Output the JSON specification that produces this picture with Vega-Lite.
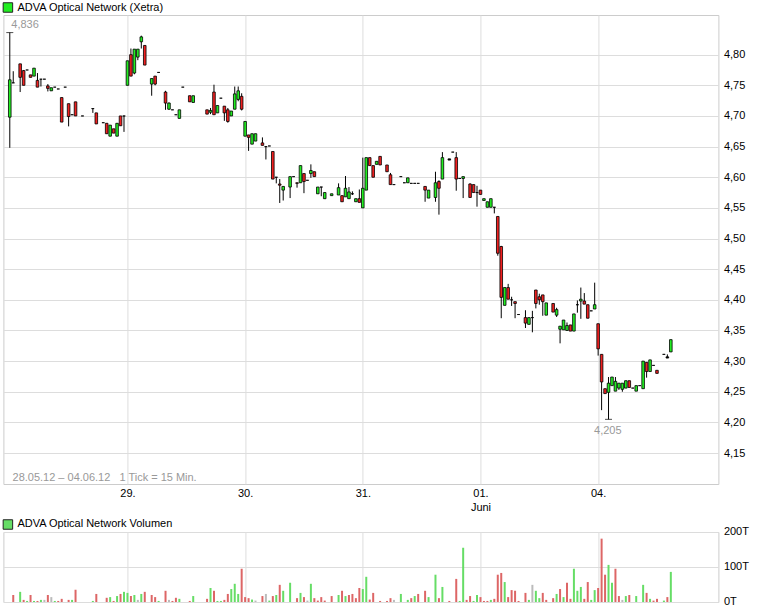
{
  "$schema": "https://vega.github.io/schema/vega-lite/v6.json",
  "background": "white",
  "padding": {"left": 1.4, "top": 1, "right": 5, "bottom": 5},
  "bounds": "flush",
  "spacing": 48,
  "datasets": {
    "candles": [
      {"t": 0, "o": 4.698, "h": 4.836, "l": 4.648, "c": 4.759, "d": "up"},
      {"t": 1, "o": 4.754, "h": 4.773, "l": 4.754, "c": 4.754, "d": "flat"},
      {"t": 3, "o": 4.785, "h": 4.785, "l": 4.739, "c": 4.763, "d": "down"},
      {"t": 4, "o": 4.774, "h": 4.775, "l": 4.75, "c": 4.75, "d": "down"},
      {"t": 5, "o": 4.775, "h": 4.775, "l": 4.775, "c": 4.775, "d": "flat"},
      {"t": 6, "o": 4.767, "h": 4.767, "l": 4.763, "c": 4.763, "d": "down"},
      {"t": 7, "o": 4.765, "h": 4.778, "l": 4.765, "c": 4.778, "d": "up"},
      {"t": 8, "o": 4.758, "h": 4.77, "l": 4.747, "c": 4.747, "d": "down"},
      {"t": 9, "o": 4.76, "h": 4.76, "l": 4.748, "c": 4.76, "d": "flat"},
      {"t": 10, "o": 4.76, "h": 4.76, "l": 4.76, "c": 4.76, "d": "flat"},
      {"t": 11, "o": 4.749, "h": 4.752, "l": 4.74, "c": 4.745, "d": "down"},
      {"t": 12, "o": 4.741, "h": 4.746, "l": 4.741, "c": 4.746, "d": "up"},
      {"t": 13, "o": 4.747, "h": 4.747, "l": 4.747, "c": 4.747, "d": "flat"},
      {"t": 14, "o": 4.744, "h": 4.744, "l": 4.744, "c": 4.744, "d": "flat"},
      {"t": 15, "o": 4.73, "h": 4.73, "l": 4.69, "c": 4.69, "d": "down"},
      {"t": 16, "o": 4.747, "h": 4.747, "l": 4.747, "c": 4.747, "d": "flat"},
      {"t": 17, "o": 4.72, "h": 4.72, "l": 4.683, "c": 4.699, "d": "down"},
      {"t": 18, "o": 4.702, "h": 4.702, "l": 4.702, "c": 4.702, "d": "flat"},
      {"t": 19, "o": 4.723, "h": 4.723, "l": 4.7, "c": 4.7, "d": "down"},
      {"t": 21, "o": 4.7, "h": 4.7, "l": 4.7, "c": 4.7, "d": "flat"},
      {"t": 24, "o": 4.712, "h": 4.712, "l": 4.705, "c": 4.712, "d": "flat"},
      {"t": 25, "o": 4.705, "h": 4.705, "l": 4.687, "c": 4.687, "d": "down"},
      {"t": 27, "o": 4.689, "h": 4.689, "l": 4.689, "c": 4.689, "d": "flat"},
      {"t": 28, "o": 4.688, "h": 4.688, "l": 4.671, "c": 4.671, "d": "down"},
      {"t": 29, "o": 4.667, "h": 4.685, "l": 4.667, "c": 4.685, "d": "up"},
      {"t": 30, "o": 4.679, "h": 4.679, "l": 4.672, "c": 4.672, "d": "down"},
      {"t": 31, "o": 4.667, "h": 4.688, "l": 4.667, "c": 4.688, "d": "up"},
      {"t": 32, "o": 4.7, "h": 4.7, "l": 4.684, "c": 4.684, "d": "down"},
      {"t": 33, "o": 4.7, "h": 4.7, "l": 4.674, "c": 4.7, "d": "flat"},
      {"t": 34, "o": 4.75, "h": 4.79, "l": 4.75, "c": 4.79, "d": "up"},
      {"t": 35, "o": 4.8, "h": 4.81, "l": 4.765, "c": 4.765, "d": "down"},
      {"t": 36, "o": 4.77, "h": 4.809, "l": 4.768, "c": 4.809, "d": "up"},
      {"t": 37, "o": 4.796, "h": 4.809, "l": 4.791, "c": 4.809, "d": "up"},
      {"t": 38, "o": 4.821, "h": 4.831, "l": 4.81, "c": 4.829, "d": "up"},
      {"t": 39, "o": 4.815, "h": 4.815, "l": 4.783, "c": 4.783, "d": "down"},
      {"t": 41, "o": 4.752, "h": 4.761, "l": 4.733, "c": 4.761, "d": "up"},
      {"t": 42, "o": 4.765, "h": 4.765, "l": 4.75, "c": 4.752, "d": "down"},
      {"t": 43, "o": 4.771, "h": 4.771, "l": 4.771, "c": 4.771, "d": "flat"},
      {"t": 45, "o": 4.739, "h": 4.741, "l": 4.71, "c": 4.721, "d": "down"},
      {"t": 46, "o": 4.711, "h": 4.722, "l": 4.71, "c": 4.721, "d": "up"},
      {"t": 47, "o": 4.71, "h": 4.71, "l": 4.71, "c": 4.71, "d": "flat"},
      {"t": 48, "o": 4.702, "h": 4.702, "l": 4.702, "c": 4.702, "d": "flat"},
      {"t": 49, "o": 4.696, "h": 4.71, "l": 4.696, "c": 4.71, "d": "up"},
      {"t": 50, "o": 4.747, "h": 4.747, "l": 4.747, "c": 4.747, "d": "flat"},
      {"t": 52, "o": 4.733, "h": 4.733, "l": 4.723, "c": 4.723, "d": "down"},
      {"t": 53, "o": 4.722, "h": 4.733, "l": 4.722, "c": 4.733, "d": "up"},
      {"t": 57, "o": 4.71, "h": 4.71, "l": 4.703, "c": 4.703, "d": "down"},
      {"t": 58, "o": 4.706, "h": 4.713, "l": 4.703, "c": 4.709, "d": "up"},
      {"t": 59, "o": 4.739, "h": 4.751, "l": 4.702, "c": 4.702, "d": "down"},
      {"t": 60, "o": 4.705, "h": 4.717, "l": 4.705, "c": 4.717, "d": "up"},
      {"t": 61, "o": 4.729, "h": 4.729, "l": 4.729, "c": 4.729, "d": "flat"},
      {"t": 62, "o": 4.716, "h": 4.716, "l": 4.692, "c": 4.705, "d": "down"},
      {"t": 63, "o": 4.71, "h": 4.713, "l": 4.689, "c": 4.691, "d": "down"},
      {"t": 64, "o": 4.7, "h": 4.708, "l": 4.7, "c": 4.708, "d": "up"},
      {"t": 65, "o": 4.711, "h": 4.748, "l": 4.711, "c": 4.736, "d": "up"},
      {"t": 66, "o": 4.727, "h": 4.748, "l": 4.724, "c": 4.741, "d": "up"},
      {"t": 67, "o": 4.732, "h": 4.737, "l": 4.709, "c": 4.711, "d": "down"},
      {"t": 68, "o": 4.667, "h": 4.691, "l": 4.667, "c": 4.691, "d": "up"},
      {"t": 69, "o": 4.669, "h": 4.669, "l": 4.643, "c": 4.665, "d": "down"},
      {"t": 70, "o": 4.654, "h": 4.671, "l": 4.654, "c": 4.671, "d": "up"},
      {"t": 71, "o": 4.659, "h": 4.671, "l": 4.659, "c": 4.671, "d": "up"},
      {"t": 73, "o": 4.656, "h": 4.665, "l": 4.652, "c": 4.652, "d": "down"},
      {"t": 74, "o": 4.65, "h": 4.65, "l": 4.629, "c": 4.65, "d": "flat"},
      {"t": 75, "o": 4.651, "h": 4.651, "l": 4.651, "c": 4.651, "d": "flat"},
      {"t": 76, "o": 4.642, "h": 4.642, "l": 4.597, "c": 4.597, "d": "down"},
      {"t": 77, "o": 4.6, "h": 4.6, "l": 4.59, "c": 4.6, "d": "flat"},
      {"t": 78, "o": 4.589, "h": 4.597, "l": 4.558, "c": 4.587, "d": "down"},
      {"t": 79, "o": 4.579, "h": 4.585, "l": 4.562, "c": 4.585, "d": "up"},
      {"t": 81, "o": 4.584, "h": 4.601, "l": 4.566, "c": 4.601, "d": "up"},
      {"t": 82, "o": 4.601, "h": 4.601, "l": 4.601, "c": 4.601, "d": "flat"},
      {"t": 83, "o": 4.591, "h": 4.591, "l": 4.583, "c": 4.59, "d": "down"},
      {"t": 84, "o": 4.591, "h": 4.619, "l": 4.591, "c": 4.619, "d": "up"},
      {"t": 85, "o": 4.606, "h": 4.606, "l": 4.574, "c": 4.593, "d": "down"},
      {"t": 86, "o": 4.595, "h": 4.595, "l": 4.595, "c": 4.595, "d": "flat"},
      {"t": 87, "o": 4.606, "h": 4.621, "l": 4.599, "c": 4.611, "d": "up"},
      {"t": 88, "o": 4.609, "h": 4.609, "l": 4.601, "c": 4.601, "d": "down"},
      {"t": 89, "o": 4.573, "h": 4.584, "l": 4.573, "c": 4.584, "d": "up"},
      {"t": 90, "o": 4.584, "h": 4.584, "l": 4.569, "c": 4.584, "d": "flat"},
      {"t": 91, "o": 4.565, "h": 4.575, "l": 4.565, "c": 4.575, "d": "up"},
      {"t": 93, "o": 4.57, "h": 4.573, "l": 4.57, "c": 4.573, "d": "up"},
      {"t": 95, "o": 4.571, "h": 4.59, "l": 4.571, "c": 4.583, "d": "up"},
      {"t": 96, "o": 4.57, "h": 4.57, "l": 4.56, "c": 4.56, "d": "down"},
      {"t": 97, "o": 4.568, "h": 4.602, "l": 4.568, "c": 4.582, "d": "up"},
      {"t": 98, "o": 4.565, "h": 4.584, "l": 4.565, "c": 4.576, "d": "up"},
      {"t": 99, "o": 4.573, "h": 4.577, "l": 4.571, "c": 4.573, "d": "flat"},
      {"t": 100, "o": 4.56, "h": 4.565, "l": 4.56, "c": 4.565, "d": "up"},
      {"t": 101, "o": 4.565, "h": 4.58, "l": 4.559, "c": 4.559, "d": "down"},
      {"t": 102, "o": 4.55, "h": 4.632, "l": 4.55, "c": 4.582, "d": "up"},
      {"t": 103, "o": 4.579, "h": 4.632, "l": 4.579, "c": 4.632, "d": "up"},
      {"t": 104, "o": 4.632, "h": 4.632, "l": 4.619, "c": 4.619, "d": "down"},
      {"t": 105, "o": 4.619, "h": 4.619, "l": 4.6, "c": 4.6, "d": "down"},
      {"t": 106, "o": 4.621, "h": 4.626, "l": 4.621, "c": 4.626, "d": "up"},
      {"t": 107, "o": 4.634, "h": 4.634, "l": 4.62, "c": 4.62, "d": "down"},
      {"t": 109, "o": 4.62, "h": 4.62, "l": 4.609, "c": 4.609, "d": "down"},
      {"t": 110, "o": 4.604, "h": 4.607, "l": 4.588, "c": 4.588, "d": "down"},
      {"t": 111, "o": 4.588, "h": 4.588, "l": 4.588, "c": 4.588, "d": "flat"},
      {"t": 113, "o": 4.601, "h": 4.601, "l": 4.601, "c": 4.601, "d": "flat"},
      {"t": 114, "o": 4.591, "h": 4.591, "l": 4.591, "c": 4.591, "d": "flat"},
      {"t": 115, "o": 4.591, "h": 4.599, "l": 4.591, "c": 4.599, "d": "up"},
      {"t": 116, "o": 4.59, "h": 4.59, "l": 4.59, "c": 4.59, "d": "flat"},
      {"t": 117, "o": 4.59, "h": 4.59, "l": 4.59, "c": 4.59, "d": "flat"},
      {"t": 118, "o": 4.59, "h": 4.59, "l": 4.59, "c": 4.59, "d": "flat"},
      {"t": 120, "o": 4.585, "h": 4.585, "l": 4.56, "c": 4.579, "d": "down"},
      {"t": 121, "o": 4.566, "h": 4.579, "l": 4.566, "c": 4.579, "d": "up"},
      {"t": 123, "o": 4.567, "h": 4.609, "l": 4.56, "c": 4.591, "d": "up"},
      {"t": 124, "o": 4.593, "h": 4.595, "l": 4.539, "c": 4.582, "d": "down"},
      {"t": 125, "o": 4.597, "h": 4.641, "l": 4.597, "c": 4.632, "d": "up"},
      {"t": 127, "o": 4.63, "h": 4.63, "l": 4.628, "c": 4.628, "d": "flat"},
      {"t": 128, "o": 4.641, "h": 4.641, "l": 4.641, "c": 4.641, "d": "flat"},
      {"t": 129, "o": 4.632, "h": 4.641, "l": 4.578, "c": 4.597, "d": "down"},
      {"t": 130, "o": 4.598, "h": 4.598, "l": 4.598, "c": 4.598, "d": "flat"},
      {"t": 131, "o": 4.598, "h": 4.601, "l": 4.566, "c": 4.601, "d": "up"},
      {"t": 133, "o": 4.589, "h": 4.59, "l": 4.567, "c": 4.567, "d": "down"},
      {"t": 134, "o": 4.588, "h": 4.588, "l": 4.575, "c": 4.575, "d": "down"},
      {"t": 135, "o": 4.575, "h": 4.586, "l": 4.552, "c": 4.575, "d": "flat"},
      {"t": 136, "o": 4.579, "h": 4.579, "l": 4.572, "c": 4.572, "d": "down"},
      {"t": 137, "o": 4.562, "h": 4.565, "l": 4.562, "c": 4.565, "d": "up"},
      {"t": 138, "o": 4.551, "h": 4.56, "l": 4.551, "c": 4.56, "d": "up"},
      {"t": 139, "o": 4.551, "h": 4.565, "l": 4.551, "c": 4.565, "d": "up"},
      {"t": 140, "o": 4.551, "h": 4.551, "l": 4.541, "c": 4.551, "d": "flat"},
      {"t": 141, "o": 4.536, "h": 4.536, "l": 4.472, "c": 4.476, "d": "down"},
      {"t": 142, "o": 4.487, "h": 4.488, "l": 4.37, "c": 4.404, "d": "down"},
      {"t": 143, "o": 4.391, "h": 4.42, "l": 4.391, "c": 4.42, "d": "up"},
      {"t": 144, "o": 4.42, "h": 4.426, "l": 4.401, "c": 4.401, "d": "down"},
      {"t": 145, "o": 4.4, "h": 4.405, "l": 4.39, "c": 4.4, "d": "flat"},
      {"t": 146, "o": 4.397, "h": 4.397, "l": 4.37, "c": 4.394, "d": "down"},
      {"t": 147, "o": 4.376, "h": 4.376, "l": 4.376, "c": 4.376, "d": "flat"},
      {"t": 149, "o": 4.371, "h": 4.383, "l": 4.354, "c": 4.362, "d": "down"},
      {"t": 150, "o": 4.36, "h": 4.371, "l": 4.36, "c": 4.371, "d": "up"},
      {"t": 151, "o": 4.371, "h": 4.382, "l": 4.347, "c": 4.371, "d": "flat"},
      {"t": 152, "o": 4.416, "h": 4.416, "l": 4.386, "c": 4.394, "d": "down"},
      {"t": 153, "o": 4.405, "h": 4.41, "l": 4.392, "c": 4.4, "d": "down"},
      {"t": 154, "o": 4.408, "h": 4.408, "l": 4.374, "c": 4.397, "d": "down"},
      {"t": 155, "o": 4.375, "h": 4.395, "l": 4.375, "c": 4.395, "d": "up"},
      {"t": 157, "o": 4.394, "h": 4.394, "l": 4.38, "c": 4.38, "d": "down"},
      {"t": 158, "o": 4.375, "h": 4.387, "l": 4.372, "c": 4.384, "d": "up"},
      {"t": 159, "o": 4.352, "h": 4.357, "l": 4.329, "c": 4.357, "d": "up"},
      {"t": 160, "o": 4.351, "h": 4.367, "l": 4.351, "c": 4.367, "d": "up"},
      {"t": 161, "o": 4.35, "h": 4.363, "l": 4.35, "c": 4.358, "d": "up"},
      {"t": 162, "o": 4.359, "h": 4.359, "l": 4.349, "c": 4.349, "d": "down"},
      {"t": 163, "o": 4.349, "h": 4.377, "l": 4.349, "c": 4.377, "d": "up"},
      {"t": 164, "o": 4.392, "h": 4.399, "l": 4.379, "c": 4.392, "d": "flat"},
      {"t": 165, "o": 4.398, "h": 4.42, "l": 4.369, "c": 4.401, "d": "up"},
      {"t": 166, "o": 4.398, "h": 4.411, "l": 4.393, "c": 4.393, "d": "down"},
      {"t": 167, "o": 4.392, "h": 4.392, "l": 4.37, "c": 4.37, "d": "down"},
      {"t": 168, "o": 4.382, "h": 4.382, "l": 4.382, "c": 4.382, "d": "flat"},
      {"t": 169, "o": 4.385, "h": 4.428, "l": 4.385, "c": 4.392, "d": "up"},
      {"t": 170, "o": 4.361, "h": 4.361, "l": 4.309, "c": 4.32, "d": "down"},
      {"t": 171, "o": 4.311, "h": 4.311, "l": 4.22, "c": 4.266, "d": "down"},
      {"t": 172, "o": 4.255, "h": 4.255, "l": 4.247, "c": 4.247, "d": "down"},
      {"t": 173, "o": 4.249, "h": 4.274, "l": 4.205, "c": 4.264, "d": "up"},
      {"t": 174, "o": 4.26, "h": 4.274, "l": 4.26, "c": 4.274, "d": "up"},
      {"t": 175, "o": 4.251, "h": 4.274, "l": 4.251, "c": 4.267, "d": "up"},
      {"t": 176, "o": 4.256, "h": 4.264, "l": 4.253, "c": 4.264, "d": "up"},
      {"t": 177, "o": 4.254, "h": 4.264, "l": 4.25, "c": 4.264, "d": "up"},
      {"t": 178, "o": 4.256, "h": 4.268, "l": 4.256, "c": 4.268, "d": "up"},
      {"t": 179, "o": 4.268, "h": 4.268, "l": 4.257, "c": 4.257, "d": "down"},
      {"t": 180, "o": 4.256, "h": 4.256, "l": 4.256, "c": 4.256, "d": "flat"},
      {"t": 181, "o": 4.251, "h": 4.26, "l": 4.251, "c": 4.26, "d": "up"},
      {"t": 182, "o": 4.26, "h": 4.26, "l": 4.26, "c": 4.26, "d": "flat"},
      {"t": 183, "o": 4.255, "h": 4.3, "l": 4.255, "c": 4.3, "d": "up"},
      {"t": 184, "o": 4.298, "h": 4.298, "l": 4.273, "c": 4.283, "d": "down"},
      {"t": 185, "o": 4.283, "h": 4.302, "l": 4.283, "c": 4.302, "d": "up"},
      {"t": 186, "o": 4.293, "h": 4.293, "l": 4.293, "c": 4.293, "d": "flat"},
      {"t": 187, "o": 4.285, "h": 4.285, "l": 4.28, "c": 4.28, "d": "down"},
      {"t": 189, "o": 4.311, "h": 4.311, "l": 4.311, "c": 4.311, "d": "flat"},
      {"t": 190, "o": 4.307, "h": 4.311, "l": 4.305, "c": 4.305, "d": "flat"},
      {"t": 191, "o": 4.315, "h": 4.335, "l": 4.315, "c": 4.335, "d": "up"}
    ],
    "volume": [
      {"t": 1, "v": 20, "vd": "down"}, {"t": 3, "v": 29, "vd": "up"}, {"t": 4, "v": 6, "vd": "down"},
      {"t": 5, "v": 3, "vd": "up"}, {"t": 6, "v": 20, "vd": "down"}, {"t": 7, "v": 3, "vd": "up"},
      {"t": 8, "v": 3, "vd": "down"}, {"t": 9, "v": 6, "vd": "up"}, {"t": 10, "v": 6, "vd": "flat"},
      {"t": 11, "v": 20, "vd": "down"}, {"t": 12, "v": 14, "vd": "flat"}, {"t": 13, "v": 3, "vd": "up"},
      {"t": 14, "v": 3, "vd": "down"}, {"t": 15, "v": 9, "vd": "down"}, {"t": 17, "v": 6, "vd": "down"},
      {"t": 18, "v": 6, "vd": "up"}, {"t": 19, "v": 35, "vd": "down"}, {"t": 24, "v": 3, "vd": "up"},
      {"t": 25, "v": 23, "vd": "down"}, {"t": 28, "v": 12, "vd": "down"}, {"t": 29, "v": 14, "vd": "up"},
      {"t": 30, "v": 3, "vd": "down"}, {"t": 31, "v": 17, "vd": "up"}, {"t": 32, "v": 23, "vd": "down"},
      {"t": 33, "v": 29, "vd": "up"}, {"t": 34, "v": 26, "vd": "up"}, {"t": 35, "v": 17, "vd": "down"},
      {"t": 36, "v": 20, "vd": "up"}, {"t": 37, "v": 6, "vd": "flat"}, {"t": 38, "v": 23, "vd": "up"},
      {"t": 39, "v": 29, "vd": "down"}, {"t": 41, "v": 20, "vd": "down"}, {"t": 42, "v": 14, "vd": "down"},
      {"t": 43, "v": 3, "vd": "up"}, {"t": 45, "v": 32, "vd": "down"}, {"t": 46, "v": 6, "vd": "flat"},
      {"t": 47, "v": 3, "vd": "down"}, {"t": 48, "v": 12, "vd": "down"}, {"t": 49, "v": 9, "vd": "up"},
      {"t": 52, "v": 3, "vd": "down"}, {"t": 53, "v": 17, "vd": "up"}, {"t": 57, "v": 9, "vd": "down"},
      {"t": 58, "v": 40, "vd": "up"}, {"t": 59, "v": 32, "vd": "down"}, {"t": 60, "v": 3, "vd": "up"},
      {"t": 61, "v": 3, "vd": "up"}, {"t": 62, "v": 6, "vd": "down"}, {"t": 63, "v": 23, "vd": "down"},
      {"t": 64, "v": 37, "vd": "up"}, {"t": 65, "v": 52, "vd": "up"}, {"t": 66, "v": 23, "vd": "up"},
      {"t": 67, "v": 95, "vd": "down"}, {"t": 68, "v": 14, "vd": "down"}, {"t": 69, "v": 11, "vd": "down"},
      {"t": 70, "v": 7, "vd": "up"}, {"t": 71, "v": 4, "vd": "flat"}, {"t": 73, "v": 17, "vd": "down"},
      {"t": 74, "v": 23, "vd": "flat"}, {"t": 75, "v": 4, "vd": "up"}, {"t": 76, "v": 17, "vd": "down"},
      {"t": 77, "v": 20, "vd": "up"}, {"t": 78, "v": 49, "vd": "down"}, {"t": 79, "v": 32, "vd": "up"},
      {"t": 81, "v": 55, "vd": "up"}, {"t": 83, "v": 11, "vd": "down"}, {"t": 84, "v": 26, "vd": "up"},
      {"t": 85, "v": 14, "vd": "down"}, {"t": 86, "v": 4, "vd": "flat"}, {"t": 87, "v": 52, "vd": "up"},
      {"t": 88, "v": 11, "vd": "down"}, {"t": 89, "v": 4, "vd": "down"}, {"t": 90, "v": 14, "vd": "down"},
      {"t": 91, "v": 4, "vd": "down"}, {"t": 93, "v": 17, "vd": "down"}, {"t": 95, "v": 20, "vd": "up"},
      {"t": 96, "v": 32, "vd": "down"}, {"t": 97, "v": 17, "vd": "up"}, {"t": 98, "v": 20, "vd": "down"},
      {"t": 99, "v": 23, "vd": "down"}, {"t": 100, "v": 11, "vd": "down"}, {"t": 101, "v": 40, "vd": "down"},
      {"t": 102, "v": 37, "vd": "up"}, {"t": 103, "v": 72, "vd": "up"}, {"t": 104, "v": 7, "vd": "down"},
      {"t": 105, "v": 26, "vd": "down"}, {"t": 107, "v": 3, "vd": "down"}, {"t": 109, "v": 3, "vd": "down"},
      {"t": 110, "v": 11, "vd": "down"}, {"t": 111, "v": 6, "vd": "flat"}, {"t": 113, "v": 23, "vd": "up"},
      {"t": 115, "v": 6, "vd": "up"}, {"t": 116, "v": 11, "vd": "down"}, {"t": 117, "v": 17, "vd": "up"},
      {"t": 118, "v": 23, "vd": "down"}, {"t": 120, "v": 32, "vd": "down"}, {"t": 121, "v": 14, "vd": "up"},
      {"t": 123, "v": 78, "vd": "up"}, {"t": 124, "v": 11, "vd": "down"}, {"t": 125, "v": 43, "vd": "up"},
      {"t": 127, "v": 3, "vd": "down"}, {"t": 129, "v": 66, "vd": "down"}, {"t": 130, "v": 3, "vd": "up"},
      {"t": 131, "v": 155, "vd": "up"}, {"t": 132, "v": 6, "vd": "down"}, {"t": 133, "v": 17, "vd": "down"},
      {"t": 134, "v": 3, "vd": "up"}, {"t": 135, "v": 20, "vd": "up"}, {"t": 136, "v": 14, "vd": "down"},
      {"t": 137, "v": 3, "vd": "down"}, {"t": 138, "v": 3, "vd": "down"}, {"t": 139, "v": 6, "vd": "up"},
      {"t": 140, "v": 9, "vd": "down"}, {"t": 141, "v": 78, "vd": "down"}, {"t": 142, "v": 83, "vd": "down"},
      {"t": 143, "v": 57, "vd": "up"}, {"t": 144, "v": 14, "vd": "down"}, {"t": 145, "v": 34, "vd": "down"},
      {"t": 146, "v": 32, "vd": "down"}, {"t": 147, "v": 3, "vd": "down"}, {"t": 149, "v": 26, "vd": "down"},
      {"t": 150, "v": 6, "vd": "up"}, {"t": 151, "v": 49, "vd": "flat"}, {"t": 152, "v": 32, "vd": "up"},
      {"t": 153, "v": 11, "vd": "up"}, {"t": 154, "v": 26, "vd": "down"}, {"t": 155, "v": 6, "vd": "down"},
      {"t": 157, "v": 11, "vd": "down"}, {"t": 158, "v": 23, "vd": "up"}, {"t": 159, "v": 37, "vd": "down"},
      {"t": 160, "v": 14, "vd": "up"}, {"t": 161, "v": 55, "vd": "down"}, {"t": 162, "v": 9, "vd": "down"},
      {"t": 163, "v": 95, "vd": "up"}, {"t": 164, "v": 32, "vd": "up"}, {"t": 165, "v": 43, "vd": "up"},
      {"t": 166, "v": 9, "vd": "down"}, {"t": 167, "v": 57, "vd": "down"}, {"t": 168, "v": 6, "vd": "up"},
      {"t": 169, "v": 34, "vd": "up"}, {"t": 170, "v": 40, "vd": "down"}, {"t": 171, "v": 181, "vd": "down"},
      {"t": 172, "v": 78, "vd": "down"}, {"t": 173, "v": 106, "vd": "up"}, {"t": 174, "v": 55, "vd": "up"},
      {"t": 175, "v": 95, "vd": "down"}, {"t": 176, "v": 17, "vd": "down"}, {"t": 177, "v": 6, "vd": "flat"},
      {"t": 178, "v": 17, "vd": "up"}, {"t": 179, "v": 20, "vd": "down"}, {"t": 181, "v": 17, "vd": "up"},
      {"t": 183, "v": 49, "vd": "up"}, {"t": 184, "v": 26, "vd": "down"}, {"t": 185, "v": 9, "vd": "up"},
      {"t": 186, "v": 4, "vd": "down"}, {"t": 187, "v": 9, "vd": "down"}, {"t": 189, "v": 4, "vd": "up"},
      {"t": 190, "v": 14, "vd": "down"}, {"t": 191, "v": 86, "vd": "up"}
    ],
    "extremes": [
      {"t": 0, "v": 4.836, "label": "4,836"},
      {"t": 173, "v": 4.205, "label": "4,205"}
    ],
    "maxnote": [{"t": 0.45, "v": 4.8484, "label": "4,836"}],
    "minnote": [{"t": 172.8, "v": 4.1854, "label": "4,205"}],
    "period": [{"t": 0.8, "v": 4.1093, "label": "28.05.12 – 04.06.12\u00a0\u00a0\u00a01 Tick = 15 Min."}]
  },
  "config": {
    "font": "Liberation Sans",
    "view": {"stroke": "#cccccc"},
    "axis": {
      "labelFont": "Liberation Sans",
      "labelFontSize": 11,
      "labelColor": "#000000",
      "labelOverlap": false,
      "gridColor": "#dddddd",
      "gridWidth": 1,
      "ticks": false,
      "domain": false,
      "title": null
    },
    "legend": {
      "orient": "none",
      "legendX": -1,
      "legendY": -13,
      "title": null,
      "symbolType": "square",
      "symbolSize": 90,
      "symbolStrokeColor": "#222222",
      "symbolStrokeWidth": 1,
      "labelFont": "Liberation Sans",
      "labelFontSize": 11,
      "labelColor": "#000000",
      "labelOffset": 4,
      "padding": 0
    }
  },
  "resolve": {"scale": {"color": "independent"}, "legend": {"color": "independent"}},
  "vconcat": [
    {
      "width": 715,
      "height": 469,
      "layer": [
        {
          "data": {"name": "candles"},
          "mark": {"type": "rule", "color": "#000000", "strokeWidth": 1},
          "encoding": {
            "x": {
              "field": "t",
              "type": "quantitative",
              "scale": {"domain": [-0.4, 203.3], "nice": false, "zero": false},
              "axis": {
                "values": [34, 68, 102, 136, 170],
                "tickCount": 10,
                "grid": true,
                "labelPadding": 4,
                "labelLineHeight": 14,
                "labelExpr": "datum.value == 34 ? '29.' : datum.value == 68 ? '30.' : datum.value == 102 ? '31.' : datum.value == 136 ? ['01.', 'Juni'] : '04.'"
              }
            },
            "y": {
              "field": "l",
              "type": "quantitative",
              "scale": {"domain": [4.0995, 4.8647], "nice": false, "zero": false},
              "axis": {
                "orient": "right",
                "values": [4.15, 4.2, 4.25, 4.3, 4.35, 4.4, 4.45, 4.5, 4.55, 4.6, 4.65, 4.7, 4.75, 4.8],
                "tickCount": 30,
                "grid": true,
                "labelPadding": 5,
                "labelExpr": "replace(format(datum.value, '.2f'), '.', ',')"
              }
            },
            "y2": {"field": "h"}
          }
        },
        {
          "data": {"name": "candles"},
          "mark": {"type": "bar", "width": 2.6, "stroke": "#000000", "strokeWidth": 0.8},
          "encoding": {
            "x": {"field": "t", "type": "quantitative"},
            "y": {"field": "o", "type": "quantitative"},
            "y2": {"field": "c"},
            "color": {
              "field": "d",
              "type": "nominal",
              "scale": {"domain": ["up", "down", "flat"], "range": ["#22ee22", "#f02020", "#000000"]},
              "legend": {"values": ["up"], "labelExpr": "'ADVA Optical Network (Xetra)'"}
            }
          }
        },
        {
          "data": {"name": "extremes"},
          "mark": {"type": "tick", "orient": "horizontal", "size": 7, "thickness": 1, "color": "#000000"},
          "encoding": {
            "x": {"field": "t", "type": "quantitative"},
            "y": {"field": "v", "type": "quantitative"}
          }
        },
        {
          "data": {"name": "maxnote"},
          "mark": {"type": "text", "align": "left", "baseline": "middle", "fontSize": 11, "color": "#999999"},
          "encoding": {
            "x": {"field": "t", "type": "quantitative"},
            "y": {"field": "v", "type": "quantitative"},
            "text": {"field": "label"}
          }
        },
        {
          "data": {"name": "minnote"},
          "mark": {"type": "text", "align": "center", "baseline": "middle", "fontSize": 11, "color": "#999999"},
          "encoding": {
            "x": {"field": "t", "type": "quantitative"},
            "y": {"field": "v", "type": "quantitative"},
            "text": {"field": "label"}
          }
        },
        {
          "data": {"name": "period"},
          "mark": {"type": "text", "align": "left", "baseline": "middle", "fontSize": 11, "color": "#999999"},
          "encoding": {
            "x": {"field": "t", "type": "quantitative"},
            "y": {"field": "v", "type": "quantitative"},
            "text": {"field": "label"}
          }
        }
      ]
    },
    {
      "width": 715,
      "height": 70,
      "data": {"name": "volume"},
      "mark": {"type": "bar", "width": 2},
      "encoding": {
        "x": {
          "field": "t",
          "type": "quantitative",
          "scale": {"domain": [-0.4, 203.3], "nice": false, "zero": false},
          "axis": {"values": [34, 68, 102, 136, 170], "tickCount": 10, "grid": true, "labels": false}
        },
        "y": {
          "field": "v",
          "type": "quantitative",
          "scale": {"domain": [0, 200], "nice": false},
          "axis": {
            "orient": "right",
            "values": [0, 100, 200],
            "tickCount": 5,
            "grid": true,
            "labelPadding": 5,
            "labelExpr": "datum.value + 'T'"
          }
        },
        "color": {
          "field": "vd",
          "type": "nominal",
          "scale": {"domain": ["up", "down", "flat"], "range": ["#66dd66", "#dd6666", "#bbbbbb"]},
          "legend": {"values": ["up"], "labelExpr": "'ADVA Optical Network Volumen'"}
        }
      }
    }
  ]
}
